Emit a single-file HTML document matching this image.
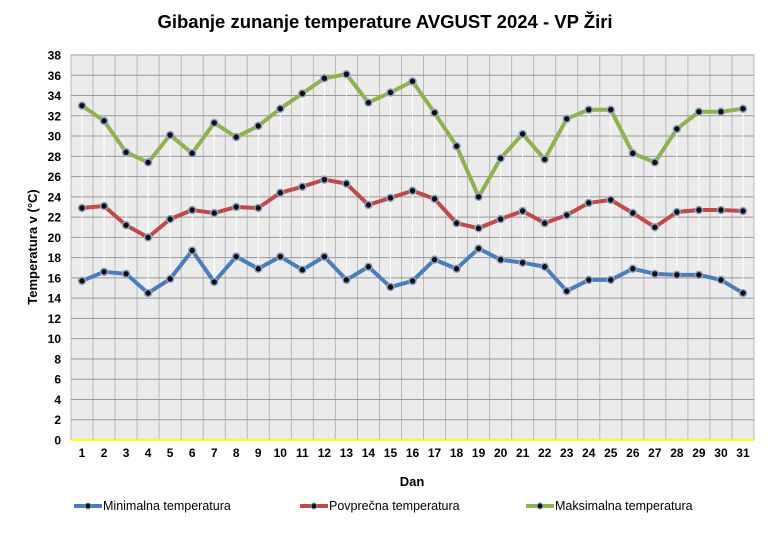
<!DOCTYPE html>
<html><head><meta charset="utf-8"><style>
body{margin:0;background:#fff;}
svg text{font-family:"Liberation Sans",sans-serif;}
</style></head><body>
<svg id="c" width="770" height="532" xmlns="http://www.w3.org/2000/svg">
<text x="385" y="28" text-anchor="middle" font-size="18.5" font-weight="bold">Gibanje zunanje temperature AVGUST 2024 - VP Žiri</text>
<text transform="translate(37,247) rotate(-90)" text-anchor="middle" font-size="13" font-weight="bold">Temperatura v (°C)</text>
<text x="412" y="486" text-anchor="middle" font-size="13" font-weight="bold">Dan</text>
<g id="plot"></g>
</svg>
<script>
const days=[1,2,3,4,5,6,7,8,9,10,11,12,13,14,15,16,17,18,19,20,21,22,23,24,25,26,27,28,29,30,31];
const maxT=[33,31.5,28.4,27.4,30.1,28.3,31.3,29.9,31,32.7,34.2,35.7,36.1,33.3,34.3,35.4,32.3,29,24,27.8,30.2,27.7,31.7,32.6,32.6,28.3,27.4,30.7,32.4,32.4,32.7];
const avgT=[22.9,23.1,21.2,20,21.8,22.7,22.4,23,22.9,24.4,25,25.7,25.3,23.2,23.9,24.6,23.8,21.4,20.9,21.8,22.6,21.4,22.2,23.4,23.7,22.4,21,22.5,22.7,22.7,22.6];
const minT=[15.7,16.6,16.4,14.5,15.9,18.7,15.6,18.1,16.9,18.1,16.8,18.1,15.8,17.1,15.1,15.7,17.8,16.9,18.9,17.8,17.5,17.1,14.7,15.8,15.8,16.9,16.4,16.3,16.3,15.8,14.5];
const yTicks=[0,2,4,6,8,10,12,14,16,18,20,22,24,26,28,30,32,34,36,38];
const L=71,R=754,T=55,B=440,yMax=38;
const cw=(R-L)/days.length;
const x=i=>L+cw*(i+0.5);
const y=v=>B-(v/yMax)*(B-T);
const NS="http://www.w3.org/2000/svg";
const g=document.getElementById('plot');
function el(t,a){const e=document.createElementNS(NS,t);for(const k in a)e.setAttribute(k,a[k]);g.appendChild(e);return e;}
let r=el('rect',{x:L,y:T,width:R-L,height:B-T,fill:'#ebebeb'});


for(let i=0;i<=days.length;i++){const e=el('line',{x1:L+cw*i,x2:L+cw*i,y1:T,y2:B,stroke:'#b8b8b8','stroke-width':1});

}
yTicks.forEach(v=>{const e=el('line',{x1:L,x2:R,y1:y(v),y2:y(v),stroke:'#999','stroke-width':1});


const t=el('text',{x:L-10,y:y(v)+4.5,'text-anchor':'end','font-size':12,'font-weight':'bold'});t.textContent=v;

});
let ax=el('line',{x1:L,x2:R,y1:B,y2:B,stroke:'#ffff00','stroke-width':2});


days.forEach((d,i)=>{const t=el('text',{x:x(i),y:B+17,'text-anchor':'middle','font-size':12,'font-weight':'bold'});t.textContent=d;


const h=el('line',{x1:x(i),x2:x(i),y1:y(maxT[i]),y2:y(minT[i]),stroke:'#fff','stroke-width':1});

});
function series(data,color,name){
const p=el('polyline',{points:data.map((v,i)=>x(i)+','+y(v)).join(' '),fill:'none',stroke:color,'stroke-width':4,'stroke-linejoin':'round'});


data.forEach((v,i)=>{const c=el('circle',{cx:x(i),cy:y(v),r:3.5,fill:'#111',stroke:'#8fa3c8','stroke-width':1.5});

});}
series(maxT,'#8db24e','max-temp');
series(avgT,'#be4b48','avg-temp');
series(minT,'#4a7ebb','min-temp');
const leg=[['Minimalna temperatura','#4a7ebb',74],['Povprečna temperatura','#be4b48',300],['Maksimalna temperatura','#8db24e',526]];
leg.forEach(l=>{const e=el('line',{x1:l[2],x2:l[2]+28,y1:506,y2:506,stroke:l[1],'stroke-width':4});


const c=el('circle',{cx:l[2]+14,cy:506,r:3,fill:'#111',stroke:'#8fa3c8','stroke-width':1});


const t=el('text',{x:l[2]+29,y:510,'font-size':12.5});t.textContent=l[0];

});
</script>
</body></html>
